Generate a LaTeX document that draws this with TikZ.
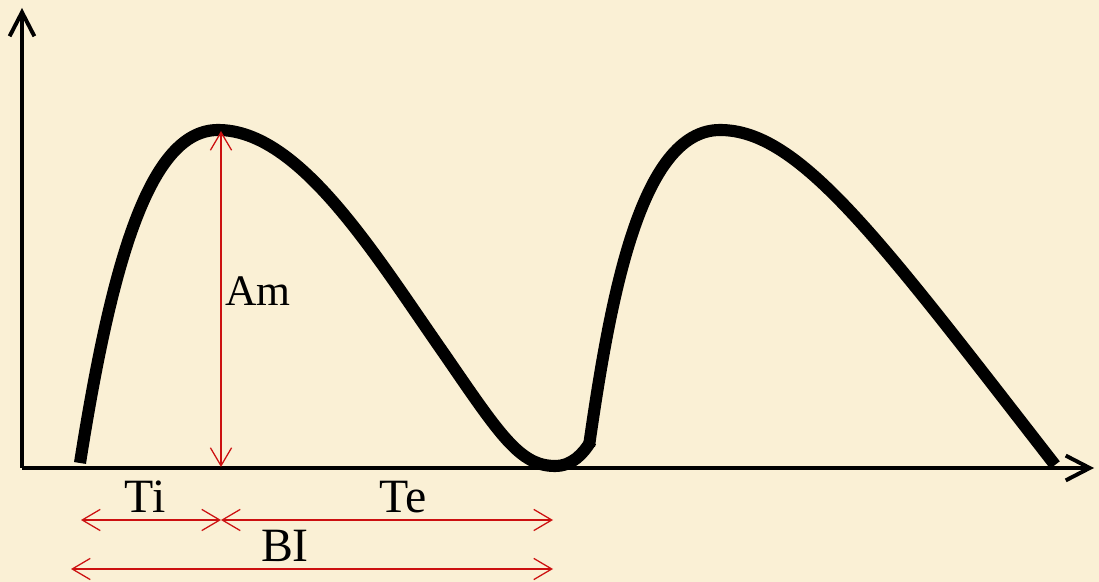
\documentclass[tikz,border=0pt]{standalone}
\usepackage{fontspec}
\setmainfont{Liberation Serif}
\usetikzlibrary{arrows.meta}
\definecolor{parchment}{HTML}{FAF0D5}
\definecolor{dimred}{HTML}{CC1010}
\begin{document}
\begin{tikzpicture}[x=0.025cm, y=-0.025cm,
		axis/.style={line width=2.8pt, -{Straight Barb[length=0.6cm, width=0.62cm]}},
		wave/.style={line width=8.6pt},
		dim/.style={draw=dimred, line width=0.9pt, {Straight Barb[length=0.45cm, width=0.53cm]}-{Straight Barb[length=0.45cm, width=0.53cm]}},
		lbl/.style={font=\fontsize{34}{40}\selectfont, inner sep=0pt}]
		% Background
		\fill[parchment] (0, 0) rectangle (1099, 582);
		\useasboundingbox (0, 0) rectangle (1099, 582);
		
		% Axes
		\coordinate (O) at (22, 468);
		\coordinate (ytip) at (22, 8);
		\coordinate (xtip) at (1094, 468);
		\draw[axis] (O) -- (ytip);
		\draw[axis] (O) -- (xtip);
		
		% Waves
		\draw[wave] (80, 463) .. controls (112, 260) and (150, 130) .. (218, 130)
			.. controls (300, 130) and (375, 255) .. (445, 355)
			.. controls (500, 435) and (520, 466) .. (555, 466)
			.. controls (572, 466) and (583, 454) .. (591, 441);
		\draw[wave] (589, 446) .. controls (610, 300) and (640, 130) .. (720, 130)
			.. controls (800, 130) and (880, 240) .. (1055, 465);
		
		% Amplitude
		\coordinate (peak) at (221, 131);
		\coordinate (foot) at (221, 467);
		\draw[dim] (foot) -- (peak);
		\node[lbl, font=\fontsize{31}{36}\selectfont] (am) at (258, 291) {Am};
		
		% Inspiration, expiration, breath interval
		\coordinate (ti0) at (81, 520);
		\coordinate (ti1) at (221, 520);
		\coordinate (te1) at (553, 520);
		\coordinate (bi0) at (71, 569);
		\coordinate (bi1) at (553, 569);
		\draw[dim] (ti0) -- (ti1);
		\draw[dim] (ti1) -- (te1);
		\draw[dim] (bi0) -- (bi1);
		\node[lbl] (ti) at (145, 497) {Ti};
		\node[lbl] (te) at (403, 497) {Te};
		\node[lbl] (bi) at (285, 546) {BI};
	\end{tikzpicture}
\end{document}
